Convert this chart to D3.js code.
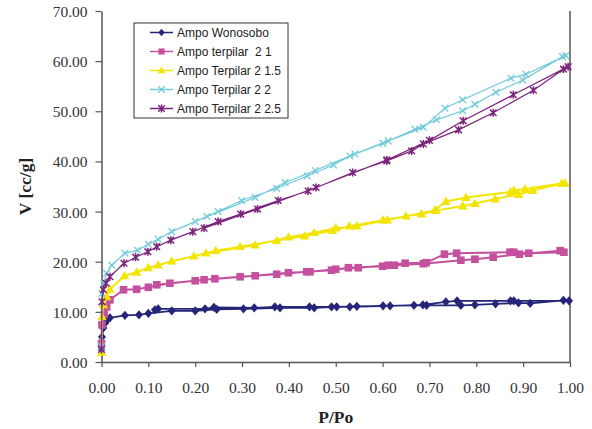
<!DOCTYPE html>
<html>
<head>
<meta charset="utf-8">
<script src="https://cdn.jsdelivr.net/npm/d3@7"></script>
<style>
  body { margin: 0; background: #fff; }
  svg { display: block; }
</style>
</head>
<body>
<div id="vizArea"></div>
<script>
// series names (legend order)
const seriesNames = ['Ampo Wonosobo', 'Ampo terpilar  2 1', 'Ampo Terpilar 2 1.5', 'Ampo Terpilar 2 2', 'Ampo Terpilar 2 2.5']
const seriesColors = ['#25257a', '#c4509e', '#f2e600', '#6fcadb', '#7c237c']
const seriesMarkers = ['diamond', 'square', 'triangle', 'cross', 'star']

// [P/Po, V] adsorption branch then desorption branch
const wonosobo = [
  [0.000, 2.5], [0.001, 5.0], [0.004, 6.8], [0.008, 7.8], [0.012, 8.4], [0.018, 8.8], [0.050, 9.3], [0.080, 9.4],
  [0.100, 9.7], [0.150, 10.2], [0.200, 10.2], [0.246, 10.5], [0.303, 10.6], [0.381, 10.8], [0.454, 10.8], [0.502, 11.0],
  [0.545, 11.1], [0.601, 11.2], [0.667, 11.3], [0.694, 11.3], [0.767, 11.3], [0.797, 11.4], [0.841, 11.6], [0.890, 11.8],
  [0.915, 11.7], [0.986, 12.3],
  [0.998, 12.2], [0.880, 12.2], [0.873, 12.2], [0.759, 12.2], [0.735, 12.0], [0.686, 11.4], [0.616, 11.2], [0.530, 11.0],
  [0.491, 11.0], [0.444, 11.0], [0.370, 11.0], [0.326, 10.8], [0.240, 10.9], [0.221, 10.6], [0.121, 10.6], [0.114, 10.4]
]
const terpilar21 = [
  [0.000, 3.7], [0.001, 7.4], [0.006, 9.5], [0.011, 11.0], [0.018, 12.4], [0.047, 14.4], [0.075, 14.5], [0.100, 14.9],
  [0.146, 15.7], [0.200, 16.2], [0.242, 16.6], [0.296, 17.0], [0.374, 17.5], [0.438, 18.0], [0.491, 18.3], [0.527, 18.8],
  [0.600, 19.1], [0.625, 19.3], [0.687, 19.6], [0.767, 20.3], [0.797, 20.5], [0.836, 20.9], [0.892, 21.5], [0.979, 22.2],
  [0.987, 21.9], [0.912, 21.7], [0.880, 21.9], [0.872, 21.9], [0.758, 21.7], [0.732, 21.5], [0.693, 19.8], [0.648, 19.7],
  [0.612, 19.3], [0.548, 18.8], [0.500, 18.5], [0.445, 18.0], [0.399, 17.8], [0.328, 17.2], [0.219, 16.4], [0.118, 15.4]
]
const terpilar215 = [
  [0.000, 1.9], [0.001, 9.0], [0.004, 11.4], [0.011, 13.0], [0.018, 14.5], [0.049, 17.2], [0.075, 17.9], [0.100, 18.8],
  [0.121, 19.3], [0.150, 20.1], [0.197, 21.1], [0.244, 22.2], [0.296, 23.0], [0.374, 24.2], [0.434, 25.1], [0.493, 26.2],
  [0.529, 27.1], [0.601, 28.3], [0.650, 29.1], [0.683, 29.5], [0.714, 30.2], [0.771, 31.1], [0.797, 31.6], [0.840, 32.5],
  [0.890, 33.4], [0.920, 34.2], [0.982, 35.6],
  [0.989, 35.7], [0.904, 34.5], [0.880, 34.2], [0.873, 33.9], [0.778, 32.8], [0.735, 32.0], [0.712, 30.3], [0.610, 28.3],
  [0.545, 27.1], [0.500, 26.7], [0.454, 25.8], [0.399, 24.9], [0.328, 23.3], [0.223, 21.7]
]
const terpilar22 = [
  [0.000, 3.1], [0.001, 13.7], [0.005, 15.7], [0.011, 17.7], [0.022, 19.3], [0.050, 21.7], [0.077, 22.3], [0.100, 23.5],
  [0.121, 24.5], [0.150, 26.0], [0.200, 28.0], [0.249, 30.0], [0.299, 32.2], [0.374, 34.6], [0.439, 37.1], [0.495, 39.3],
  [0.530, 41.1], [0.601, 43.6], [0.669, 46.4], [0.715, 48.3], [0.771, 50.1], [0.797, 51.4], [0.842, 53.8], [0.899, 56.2],
  [0.984, 60.9],
  [0.991, 61.1], [0.906, 57.4], [0.874, 56.6], [0.771, 52.3], [0.733, 50.6], [0.687, 46.8], [0.612, 44.1], [0.541, 41.5],
  [0.456, 38.2], [0.392, 35.8], [0.328, 32.8], [0.225, 29.0]
]
const terpilar225 = [
  [0.000, 2.5], [0.001, 12.0], [0.004, 14.4], [0.010, 15.7], [0.018, 17.0], [0.048, 19.7], [0.073, 20.9], [0.099, 22.0],
  [0.118, 23.0], [0.148, 24.3], [0.195, 26.0], [0.249, 28.0], [0.297, 29.5], [0.377, 32.2], [0.441, 34.1], [0.536, 37.8],
  [0.609, 40.1], [0.662, 42.1], [0.687, 43.5], [0.762, 46.3], [0.836, 49.7], [0.922, 54.2], [0.986, 58.4],
  [0.996, 58.9], [0.879, 53.3], [0.772, 48.1], [0.700, 44.2], [0.609, 40.3], [0.458, 34.8], [0.333, 30.5], [0.219, 26.7]
]
const allSeries = [wonosobo, terpilar21, terpilar215, terpilar22, terpilar225]

const xTicks = [0, 0.1, 0.2, 0.3, 0.4, 0.5, 0.6, 0.7, 0.8, 0.9, 1.0]
const yTicks = [0, 10, 20, 30, 40, 50, 60, 70]

const width = 592, height = 429
const margin = {top: 11, right: 22, bottom: 67, left: 101.5}

const svg = d3.select('#vizArea')
    .append('svg')
    .attr('width', width)
    .attr('height', height)

const x = d3.scaleLinear().domain([0, 1]).range([margin.left, width - margin.right])
const y = d3.scaleLinear().domain([0, 70]).range([height - margin.bottom, margin.top])

const axisColor = '#555'
const labelFont = '"Liberation Serif", "Times New Roman", serif'

// right border of the plot area
svg.append('line')
    .attr('x1', x(1)).attr('x2', x(1))
    .attr('y1', y(0)).attr('y2', y(70))
    .attr('stroke', axisColor)
    .attr('stroke-width', 1.5)

const xAxis = svg.append('g')
    .attr('transform', `translate(0,${y(0)})`)
    .call(d3.axisBottom(x).tickValues(xTicks).tickFormat(d3.format('.2f')).tickSize(5).tickSizeOuter(0))
const yAxis = svg.append('g')
    .attr('transform', `translate(${x(0)},0)`)
    .call(d3.axisLeft(y).tickValues(yTicks).tickFormat(d3.format('.2f')).tickSize(6).tickSizeOuter(0))

;[xAxis, yAxis].forEach(g => {
    g.select('.domain').attr('stroke', axisColor).attr('stroke-width', 1.5)
    g.selectAll('.tick line').attr('stroke', axisColor).attr('stroke-width', 1.2)
    g.selectAll('.tick text')
        .attr('fill', '#333')
        .style('font-family', labelFont)
        .style('font-size', '15.5px')
})
xAxis.selectAll('.tick text').attr('y', 20).attr('dy', '0.71em')
yAxis.selectAll('.tick text').attr('x', -14).attr('dy', '0.35em')

// axis titles
svg.append('text')
    .attr('x', x(0.5)).attr('y', 423)
    .attr('text-anchor', 'middle')
    .style('font-family', labelFont).style('font-size', '17.5px').style('font-weight', 'bold')
    .attr('fill', '#222')
    .text('P/Po')
svg.append('text')
    .attr('transform', `translate(31,${y(35)}) rotate(-90)`)
    .attr('text-anchor', 'middle')
    .style('font-family', labelFont).style('font-size', '17.5px').style('font-weight', 'bold')
    .attr('fill', '#222')
    .text('V [cc/g]')

// marker shapes
function marker(sel, type, color, s) {
    if (type === 'diamond') {
        sel.append('path').attr('d', `M0,${-4.6 * s}L${4 * s},0L0,${4.6 * s}L${-4 * s},0Z`).attr('fill', color)
    } else if (type === 'square') {
        sel.append('rect').attr('x', -3.8 * s).attr('y', -3.8 * s).attr('width', 7.6 * s).attr('height', 7.6 * s).attr('fill', color)
    } else if (type === 'triangle') {
        sel.append('path').attr('d', `M0,${-5 * s}L${4.8 * s},${3.4 * s}L${-4.8 * s},${3.4 * s}Z`).attr('fill', color)
    } else if (type === 'cross') {
        sel.append('path').attr('d', 'M-3.3,-3.3L3.3,3.3M-3.3,3.3L3.3,-3.3').attr('stroke', color).attr('stroke-width', 1.3)
    } else {
        sel.append('path').attr('d', 'M-3.3,-3.3L3.3,3.3M-3.3,3.3L3.3,-3.3M0,-4L0,4').attr('stroke', color).attr('stroke-width', 1.5)
    }
}

const line = d3.line().x(d => x(d[0])).y(d => y(d[1]))

allSeries.forEach((data, i) => {
    const g = svg.append('g')
    g.append('path')
        .attr('d', line(data))
        .attr('fill', 'none')
        .attr('stroke', seriesColors[i])
        .attr('stroke-width', i >= 3 ? 1.2 : 1.9)
        .attr('stroke-linejoin', 'round')
    g.selectAll('g.pt')
        .data(data)
        .enter()
        .append('g')
        .attr('class', 'pt')
        .attr('transform', d => `translate(${x(d[0])},${y(d[1])})`)
        .each(function () { marker(d3.select(this), seriesMarkers[i], seriesColors[i], 1) })
})

// legend
const legend = svg.append('g').attr('transform', 'translate(134,23)')
legend.append('rect')
    .attr('width', 154).attr('height', 95)
    .attr('fill', '#fff').attr('stroke', '#333').attr('stroke-width', 1)
seriesNames.forEach((name, i) => {
    const row = legend.append('g').attr('transform', `translate(0,${9.5 + i * 19})`)
    row.append('line')
        .attr('x1', 16).attr('x2', 39)
        .attr('stroke', seriesColors[i]).attr('stroke-width', 1.5)
    const m = row.append('g').attr('transform', 'translate(27.5,0)')
    marker(m, seriesMarkers[i], seriesColors[i], 0.8)
    row.append('text')
        .attr('x', 43).attr('dy', '0.35em')
        .style('font-family', '"Liberation Sans", Arial, sans-serif')
        .style('font-size', '12px')
        .attr('fill', '#222')
        .attr('xml:space', 'preserve')
        .style('white-space', 'pre')
        .text(name)
})
</script>
</body>
</html>
